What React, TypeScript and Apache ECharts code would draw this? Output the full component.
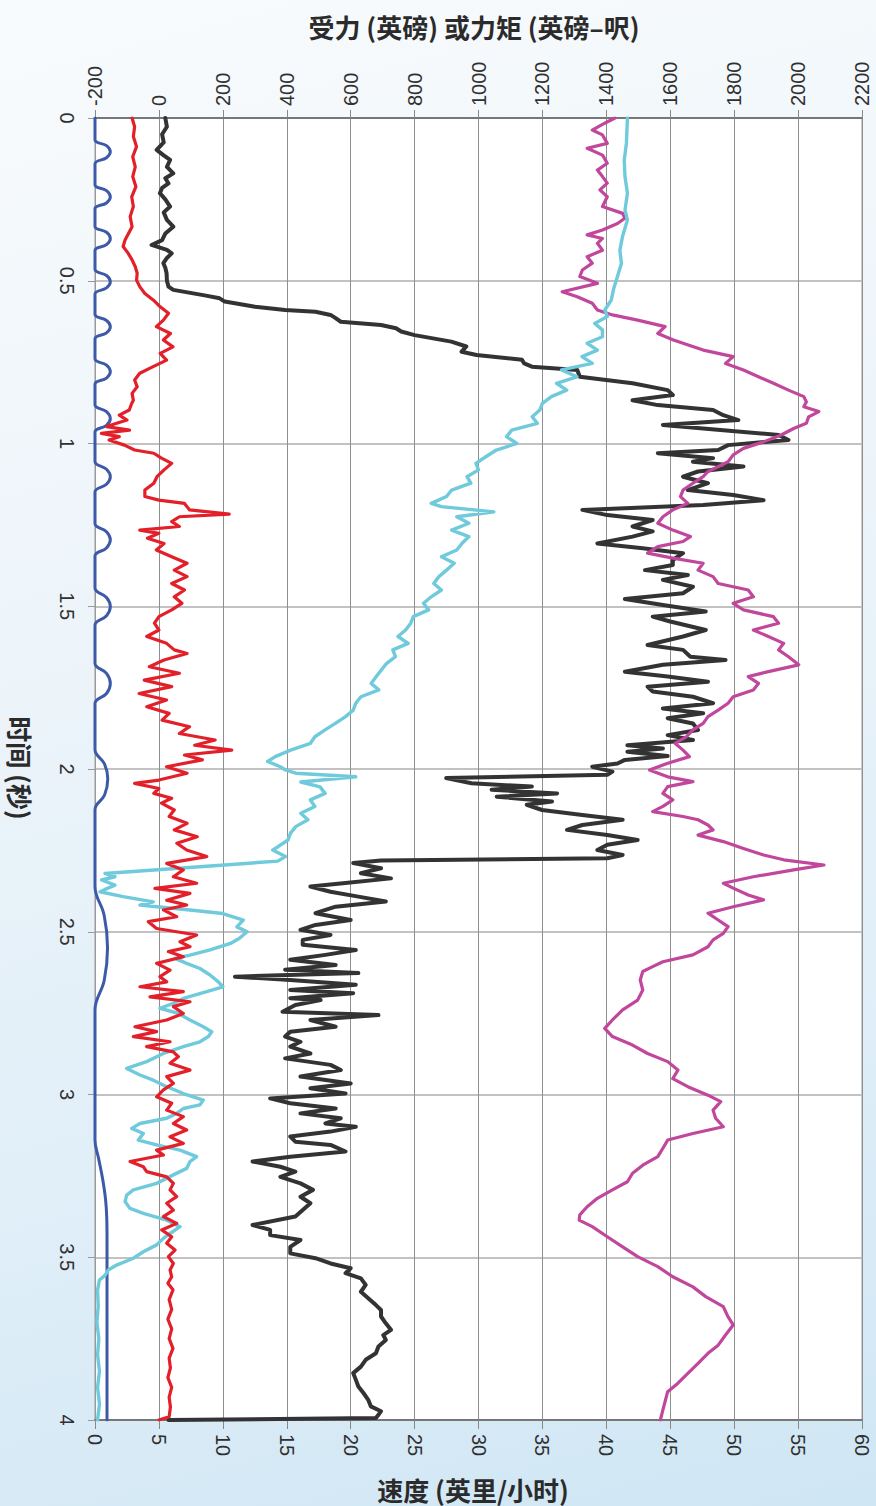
import React, { useEffect, useRef } from "react";
import * as echarts from "echarts";

// Axis ranges
const forceRange = { min: -200, max: 2200, interval: 200 };
const speedRange = { min: 0, max: 60, interval: 5 };
const timeRange = { min: 0, max: 4, interval: 0.5 };

// Pulse signal (mph scale), [time s, value]
const pulseSignal: [number, number][] = [
  [0, 0],
  [0.067, 0], [0.085, 0.9], [0.104, 1.2], [0.122, 0.9], [0.141, 0],
  [0.205, 0], [0.223, 0.9], [0.242, 1.2], [0.261, 0.9], [0.279, 0],
  [0.333, 0], [0.351, 0.9], [0.37, 1.2], [0.389, 0.9], [0.407, 0],
  [0.465, 0], [0.484, 0.9], [0.503, 1.2], [0.522, 0.9], [0.541, 0],
  [0.603, 0], [0.622, 0.9], [0.641, 1.2], [0.66, 0.9], [0.679, 0],
  [0.74, 0], [0.759, 0.9], [0.779, 1.2], [0.799, 0.9], [0.818, 0],
  [0.881, 0], [0.902, 0.9], [0.923, 1.2], [0.944, 0.9], [0.965, 0],
  [1.055, 0], [1.079, 0.9], [1.102, 1.2], [1.125, 0.9], [1.149, 0],
  [1.246, 0], [1.271, 0.9], [1.296, 1.2], [1.321, 0.9], [1.346, 0],
  [1.444, 0], [1.473, 0.9], [1.501, 1.2], [1.529, 0.9], [1.558, 0],
  [1.675, 0], [1.706, 0.9], [1.737, 1.2], [1.768, 0.9], [1.799, 0],
  [1.94, 0], [1.985, 0.75], [2.03, 1.0], [2.08, 0.75], [2.125, 0],
  [2.36, 0], [2.45, 0.72], [2.55, 0.98], [2.65, 0.72], [2.74, 0],
  [3.14, 0], [3.2, 0.3], [3.26, 0.6], [3.32, 0.82], [3.38, 0.92], [3.45, 0.94], [4.0, 0.94],
];

// Red trace (mph scale)
const redSpeed: [number, number][] = [
  [0, 2.9], [0.027, 3.1], [0.057, 3.0], [0.088, 3.25], [0.119, 2.95], [0.15, 3.15], [0.18, 2.95],
  [0.211, 3.2], [0.242, 2.87], [0.272, 3.0], [0.303, 2.75], [0.334, 2.9], [0.375, 2.35], [0.395, 2.2],
  [0.416, 2.6], [0.436, 2.9], [0.457, 3.15], [0.477, 3.3], [0.498, 3.25], [0.518, 3.5], [0.539, 3.9],
  [0.559, 4.55], [0.58, 5.1], [0.6, 5.75], [0.621, 5.35], [0.641, 4.8], [0.662, 5.9], [0.682, 5.35],
  [0.703, 6.1], [0.723, 5.1], [0.744, 5.6], [0.764, 4.55], [0.784, 3.5], [0.805, 3.1], [0.826, 3.3],
  [0.846, 2.9], [0.867, 3.0], [0.877, 2.87], [0.897, 2.68], [0.913, 1.9], [0.928, 2.5], [0.948, 0.9],
  [0.959, 2.7], [0.969, 0.5], [0.979, 1.9], [0.989, 1.1], [1.005, 2.3], [1.02, 3.1], [1.03, 4.6],
  [1.045, 5.2], [1.061, 6.0], [1.081, 5.4], [1.102, 4.85], [1.122, 4.6], [1.143, 3.9], [1.163, 3.9],
  [1.174, 5.0], [1.184, 7.0], [1.204, 7.4], [1.217, 10.5], [1.225, 6.6], [1.24, 6.0], [1.255, 6.6],
  [1.266, 3.5], [1.276, 5.0], [1.291, 4.1], [1.307, 5.4], [1.327, 4.8], [1.348, 6.0], [1.368, 7.2],
  [1.389, 6.2], [1.409, 7.2], [1.43, 6.0], [1.45, 7.0], [1.471, 6.2], [1.491, 6.8], [1.511, 6.0],
  [1.532, 5.0], [1.552, 4.65], [1.573, 5.0], [1.593, 4.05], [1.614, 5.6], [1.634, 6.2], [1.645, 7.2],
  [1.665, 5.4], [1.686, 4.25], [1.706, 6.6], [1.727, 3.85], [1.747, 6.0], [1.768, 3.45], [1.788, 5.6],
  [1.809, 4.05], [1.829, 5.8], [1.85, 5.25], [1.87, 7.4], [1.891, 6.6], [1.911, 9.4], [1.927, 7.8],
  [1.942, 10.7], [1.957, 7.0], [1.972, 8.4], [1.993, 5.6], [2.013, 7.2], [2.034, 5.0], [2.044, 3.1],
  [2.06, 5.0], [2.075, 4.6], [2.09, 6.0], [2.105, 5.2], [2.126, 6.2], [2.146, 5.8], [2.167, 7.2],
  [2.187, 6.2], [2.208, 8.0], [2.228, 6.4], [2.249, 7.17], [2.269, 8.74], [2.29, 5.61], [2.31, 6.91],
  [2.331, 6.13], [2.351, 7.95], [2.367, 4.69], [2.382, 7.43], [2.403, 5.61], [2.418, 7.17], [2.433, 5.35],
  [2.454, 6.39], [2.469, 4.17], [2.49, 4.82], [2.51, 7.95], [2.531, 6.65], [2.546, 7.43], [2.561, 5.74],
  [2.577, 6.91], [2.597, 4.82], [2.618, 5.87], [2.638, 5.08], [2.654, 5.61], [2.669, 3.52], [2.684, 6.91],
  [2.7, 4.3], [2.715, 7.43], [2.73, 6.13], [2.751, 6.91], [2.771, 5.61], [2.792, 3.13], [2.807, 4.82],
  [2.822, 3.0], [2.838, 5.87], [2.853, 4.04], [2.869, 6.13], [2.884, 6.52], [2.904, 5.87], [2.925, 7.43],
  [2.945, 5.61], [2.966, 6.13], [2.986, 5.35], [3.007, 4.82], [3.027, 6.0], [3.048, 5.61], [3.068, 6.91],
  [3.089, 6.13], [3.109, 7.17], [3.13, 5.87], [3.15, 6.91], [3.171, 4.82], [3.186, 5.35], [3.206, 2.74],
  [3.222, 3.78], [3.237, 4.04], [3.253, 5.61], [3.273, 6.13], [3.293, 5.87], [3.314, 6.39], [3.334, 5.61],
  [3.355, 6.13], [3.375, 5.35], [3.396, 6.39], [3.416, 5.22], [3.437, 6.0], [3.457, 5.61], [3.478, 6.26],
  [3.498, 5.74], [3.519, 6.13], [3.539, 5.87], [3.56, 6.0], [3.58, 5.7], [3.6, 6.1], [3.63, 5.8],
  [3.66, 6.0], [3.69, 5.7], [3.72, 6.0], [3.75, 5.8], [3.78, 6.1], [3.81, 5.8], [3.84, 5.9], [3.87, 5.7],
  [3.9, 6.0], [3.93, 5.8], [3.96, 5.9], [3.99, 5.8], [4.0, 5.0],
];

// Cyan trace (mph scale)
const cyanSpeed: [number, number][] = [
  [0, 41.65], [0.078, 41.57], [0.13, 41.4], [0.18, 41.46], [0.231, 41.65], [0.283, 41.46], [0.313, 41.65],
  [0.365, 41.26], [0.406, 41.06], [0.447, 41.18], [0.487, 40.87], [0.528, 40.55], [0.559, 40.39],
  [0.59, 39.88], [0.61, 40.08], [0.631, 39.09], [0.651, 39.69], [0.672, 39.7], [0.692, 38.5], [0.713, 39.3],
  [0.733, 38.1], [0.754, 38.9], [0.774, 36.5], [0.795, 37.7], [0.815, 36.1], [0.836, 36.9], [0.856, 35.7],
  [0.877, 35.0], [0.897, 34.8], [0.918, 34.2], [0.938, 34.6], [0.959, 32.6], [0.979, 32.2], [1.0, 33.0],
  [1.02, 31.4], [1.04, 30.6], [1.061, 29.8], [1.081, 30.0], [1.102, 29.1], [1.122, 29.4], [1.143, 27.9],
  [1.163, 27.5], [1.184, 26.3], [1.194, 27.1], [1.21, 31.2], [1.225, 28.3], [1.245, 29.25], [1.266, 27.9],
  [1.286, 29.25], [1.307, 28.7], [1.327, 28.3], [1.348, 27.1], [1.368, 28.1], [1.389, 27.5], [1.409, 26.9],
  [1.43, 26.5], [1.45, 27.1], [1.471, 26.3], [1.491, 25.7], [1.511, 26.1], [1.532, 24.9], [1.552, 24.7],
  [1.573, 24.3], [1.593, 23.7], [1.614, 24.5], [1.634, 23.3], [1.655, 23.5], [1.676, 22.8], [1.696, 22.4],
  [1.716, 22.0], [1.737, 21.6], [1.757, 22.2], [1.778, 20.8], [1.798, 20.4], [1.819, 20.2], [1.839, 19.6],
  [1.86, 18.8], [1.88, 18.0], [1.901, 17.2], [1.921, 16.85], [1.942, 15.3], [1.962, 14.1], [1.977, 13.5],
  [1.993, 14.5], [2.003, 14.9], [2.013, 15.7], [2.024, 20.4], [2.04, 16.1], [2.055, 17.6], [2.075, 18.0],
  [2.095, 16.85], [2.115, 17.2], [2.136, 16.1], [2.156, 16.65], [2.177, 15.7], [2.197, 15.3], [2.218, 15.1],
  [2.249, 13.9], [2.269, 14.9], [2.283, 14.3], [2.321, 0.78], [2.331, 1.56], [2.341, 0.52], [2.357, 1.56],
  [2.37, 0.78], [2.377, 0.39], [2.392, 2.2], [2.408, 4.56], [2.418, 3.52], [2.433, 7.43], [2.444, 10.0],
  [2.464, 11.6], [2.485, 11.1], [2.5, 11.9], [2.52, 11.3], [2.536, 10.6], [2.556, 9.0], [2.572, 7.43],
  [2.582, 6.26], [2.597, 7.17], [2.613, 8.21], [2.633, 9.0], [2.654, 9.65], [2.669, 10.0], [2.684, 8.74],
  [2.705, 6.91], [2.72, 6.13], [2.735, 5.08], [2.751, 6.52], [2.771, 7.43], [2.792, 8.47], [2.807, 9.13],
  [2.822, 8.87], [2.838, 8.21], [2.853, 6.91], [2.874, 5.35], [2.899, 4.04], [2.92, 2.48], [2.94, 3.52],
  [2.956, 4.56], [2.976, 5.61], [2.997, 6.91], [3.017, 8.47], [3.032, 8.21], [3.043, 6.91], [3.058, 6.39],
  [3.073, 5.61], [3.089, 3.52], [3.104, 2.87], [3.12, 3.78], [3.14, 3.39], [3.155, 4.82], [3.171, 6.65],
  [3.191, 7.95], [3.206, 7.43], [3.227, 7.17], [3.247, 6.13], [3.273, 4.82], [3.293, 3.0], [3.309, 2.48],
  [3.329, 2.35], [3.35, 2.74], [3.365, 3.78], [3.386, 5.61], [3.406, 6.65], [3.427, 5.87], [3.442, 5.35],
  [3.462, 4.82], [3.483, 3.78], [3.503, 3.0], [3.524, 1.69], [3.539, 1.04], [3.555, 0.8], [3.57, 0.35],
  [3.6, 0.2], [3.65, 0.25], [3.7, 0.15], [3.75, 0.3], [3.8, 0.2], [3.85, 0.35], [3.9, 0.2], [3.95, 0.35],
  [4.0, 0.2],
];

// Dark trace (lbf scale)
const blackForce: [number, number][] = [
  [0, 20], [0.027, 25], [0.05, 10], [0.075, 15], [0.098, -7], [0.115, 15], [0.129, 35], [0.15, 25],
  [0.17, 45], [0.185, 20], [0.201, 30], [0.215, 10], [0.231, 3], [0.25, 20], [0.272, 35], [0.29, 15],
  [0.313, 25], [0.334, 45], [0.355, 20], [0.375, 10], [0.39, -23], [0.405, 25], [0.416, 40], [0.43, 25],
  [0.446, 14], [0.46, 20], [0.477, 24], [0.5, 25], [0.518, 30], [0.528, 45], [0.545, 143], [0.554, 190],
  [0.564, 206], [0.58, 301], [0.59, 395], [0.595, 490], [0.605, 537], [0.615, 553], [0.626, 569],
  [0.636, 695], [0.646, 742], [0.656, 758], [0.667, 800], [0.687, 915], [0.702, 962], [0.718, 947],
  [0.728, 994], [0.743, 1136], [0.754, 1143], [0.764, 1167], [0.774, 1309], [0.795, 1317], [0.815, 1482],
  [0.836, 1592], [0.851, 1608], [0.867, 1482], [0.882, 1561], [0.897, 1734], [0.913, 1766], [0.928, 1813],
  [0.943, 1577], [0.959, 1766], [0.974, 1939], [0.989, 1970], [1.005, 1781], [1.02, 1750], [1.03, 1561],
  [1.045, 1734], [1.056, 1671], [1.071, 1829], [1.086, 1687], [1.102, 1640], [1.122, 1718], [1.143, 1655],
  [1.158, 1797], [1.174, 1892], [1.189, 1703], [1.204, 1325], [1.22, 1403], [1.235, 1545], [1.255, 1482],
  [1.27, 1545], [1.286, 1482], [1.307, 1372], [1.322, 1514], [1.337, 1640], [1.358, 1608], [1.373, 1608],
  [1.389, 1521], [1.404, 1655], [1.419, 1577], [1.44, 1671], [1.46, 1640], [1.478, 1458], [1.496, 1577],
  [1.516, 1711], [1.532, 1545], [1.547, 1600], [1.573, 1711], [1.593, 1640], [1.619, 1529], [1.634, 1640],
  [1.655, 1663], [1.665, 1773], [1.68, 1577], [1.701, 1458], [1.716, 1592], [1.732, 1718], [1.747, 1529],
  [1.762, 1545], [1.778, 1671], [1.798, 1734], [1.814, 1577], [1.829, 1703], [1.844, 1592], [1.86, 1671],
  [1.88, 1687], [1.896, 1592], [1.911, 1671], [1.927, 1466], [1.937, 1577], [1.947, 1466], [1.96, 1592],
  [1.972, 1458], [1.983, 1435], [1.993, 1356], [2.008, 1419], [2.018, 1403], [2.028, 899], [2.044, 978],
  [2.054, 1167], [2.064, 1041], [2.075, 1246], [2.085, 1057], [2.1, 1230], [2.11, 1151], [2.126, 1199],
  [2.141, 1325], [2.156, 1451], [2.172, 1325], [2.187, 1277], [2.203, 1403], [2.218, 1498], [2.233, 1403],
  [2.249, 1372], [2.264, 1451], [2.274, 1403], [2.281, 695], [2.289, 608], [2.305, 695], [2.32, 632],
  [2.336, 726], [2.351, 576], [2.361, 474], [2.377, 537], [2.392, 624], [2.407, 710], [2.423, 553],
  [2.443, 490], [2.464, 600], [2.479, 490], [2.494, 443], [2.51, 537], [2.525, 450], [2.54, 450],
  [2.556, 616], [2.571, 521], [2.586, 411], [2.602, 553], [2.617, 395], [2.627, 624], [2.638, 238],
  [2.648, 411], [2.663, 616], [2.679, 411], [2.689, 608], [2.704, 411], [2.71, 506], [2.725, 427],
  [2.746, 387], [2.756, 687], [2.771, 474], [2.792, 553], [2.807, 411], [2.822, 395], [2.838, 443],
  [2.853, 411], [2.874, 474], [2.889, 395], [2.909, 537], [2.925, 569], [2.945, 443], [2.966, 600],
  [2.981, 474], [2.997, 584], [3.012, 348], [3.027, 411], [3.043, 553], [3.058, 443], [3.073, 569],
  [3.089, 521], [3.099, 616], [3.114, 537], [3.129, 411], [3.145, 427], [3.155, 537], [3.175, 584],
  [3.191, 411], [3.206, 293], [3.222, 380], [3.237, 427], [3.253, 380], [3.273, 443], [3.293, 482],
  [3.314, 443], [3.334, 474], [3.355, 450], [3.375, 427], [3.401, 293], [3.416, 348], [3.432, 348],
  [3.447, 443], [3.468, 411], [3.488, 411], [3.503, 490], [3.519, 537], [3.534, 600], [3.549, 584],
  [3.565, 632], [3.585, 647], [3.606, 632], [3.626, 655], [3.647, 679], [3.662, 695], [3.682, 695],
  [3.703, 710], [3.723, 726], [3.739, 702], [3.754, 710], [3.774, 687], [3.795, 679], [3.815, 647],
  [3.836, 632], [3.856, 608], [3.876, 616], [3.897, 624], [3.917, 640], [3.938, 655], [3.958, 663],
  [3.973, 695], [3.984, 687], [3.994, 679], [4.0, 30],
];

// Magenta trace (lbf scale)
const magentaForce: [number, number][] = [
  [0, 1427], [0.016, 1395], [0.037, 1356], [0.052, 1388], [0.078, 1403], [0.093, 1340], [0.114, 1388],
  [0.139, 1403], [0.16, 1372], [0.18, 1388], [0.2, 1403], [0.221, 1380], [0.242, 1403], [0.272, 1388],
  [0.293, 1451], [0.308, 1458], [0.324, 1435], [0.344, 1388], [0.359, 1340], [0.37, 1388], [0.385, 1372],
  [0.406, 1388], [0.426, 1340], [0.446, 1356], [0.467, 1325], [0.487, 1317], [0.508, 1372], [0.534, 1262],
  [0.549, 1309], [0.569, 1356], [0.59, 1372], [0.605, 1419], [0.621, 1498], [0.641, 1584], [0.662, 1561],
  [0.682, 1610], [0.692, 1640], [0.713, 1703], [0.733, 1797], [0.754, 1773], [0.774, 1829], [0.795, 1876],
  [0.815, 1923], [0.836, 1970], [0.856, 2018], [0.872, 2026], [0.887, 2018], [0.902, 2065], [0.918, 2033],
  [0.938, 2026], [0.954, 1986], [0.974, 1947], [0.995, 1892], [1.015, 1829], [1.035, 1797], [1.056, 1781],
  [1.071, 1750], [1.086, 1718], [1.102, 1703], [1.122, 1671], [1.143, 1640], [1.163, 1632], [1.184, 1655],
  [1.204, 1608], [1.225, 1577], [1.245, 1561], [1.266, 1608], [1.286, 1663], [1.301, 1640], [1.317, 1561],
  [1.337, 1529], [1.352, 1608], [1.368, 1703], [1.389, 1687], [1.409, 1734], [1.43, 1750], [1.45, 1844],
  [1.471, 1860], [1.491, 1797], [1.511, 1829], [1.532, 1923], [1.552, 1939], [1.573, 1860], [1.593, 1907],
  [1.614, 1955], [1.634, 1939], [1.655, 1970], [1.68, 2002], [1.701, 1907], [1.716, 1844], [1.737, 1876],
  [1.757, 1860], [1.778, 1797], [1.798, 1781], [1.819, 1750], [1.839, 1718], [1.86, 1703], [1.88, 1671],
  [1.901, 1650], [1.921, 1615], [1.942, 1640], [1.962, 1660], [1.983, 1590], [2.003, 1535], [2.024, 1592],
  [2.039, 1671], [2.054, 1592], [2.075, 1577], [2.095, 1608], [2.115, 1577], [2.131, 1545], [2.146, 1640],
  [2.156, 1687], [2.172, 1718], [2.187, 1734], [2.203, 1687], [2.223, 1766], [2.244, 1829], [2.264, 1892],
  [2.279, 1955], [2.295, 2081], [2.31, 1986], [2.331, 1860], [2.351, 1766], [2.366, 1797], [2.387, 1844],
  [2.402, 1892], [2.423, 1797], [2.443, 1718], [2.464, 1750], [2.484, 1781], [2.505, 1766], [2.525, 1734],
  [2.546, 1718], [2.571, 1671], [2.592, 1577], [2.607, 1545], [2.622, 1514], [2.648, 1506], [2.679, 1514],
  [2.71, 1498], [2.74, 1451], [2.771, 1419], [2.797, 1395], [2.822, 1419], [2.848, 1482], [2.874, 1529],
  [2.899, 1592], [2.925, 1624], [2.951, 1608], [2.976, 1655], [3.002, 1718], [3.022, 1758], [3.048, 1734],
  [3.073, 1742], [3.099, 1766], [3.12, 1671], [3.14, 1592], [3.165, 1577], [3.191, 1561], [3.217, 1514],
  [3.242, 1482], [3.268, 1466], [3.293, 1419], [3.319, 1372], [3.345, 1340], [3.37, 1317], [3.386, 1315],
  [3.406, 1356], [3.437, 1403], [3.468, 1451], [3.498, 1498], [3.529, 1561], [3.56, 1608], [3.591, 1671],
  [3.621, 1711], [3.652, 1766], [3.683, 1781], [3.708, 1797], [3.739, 1773], [3.77, 1750], [3.795, 1718],
  [3.826, 1687], [3.857, 1655], [3.887, 1624], [3.913, 1592], [3.943, 1584], [3.969, 1577], [4.0, 1569],
];

const topTitle = "受力 (英磅) 或力矩 (英磅–呎)";
const bottomTitle = "速度 (英里/小时)";
const leftTitle = "时间 (秒)";

const labelFont = '"Liberation Sans", Arial, sans-serif';
const titleFont = '"Noto Sans CJK SC", "Noto Sans", sans-serif';

function lineSeries(
  name: string,
  data: [number, number][],
  xAxisIndex: number,
  color: string,
  width: number,
  z: number,
  smooth: number | boolean = false
) {
  return {
    type: "line",
    name,
    xAxisIndex,
    yAxisIndex: 0,
    data: data.map(([t, v]) => [v, t]),
    showSymbol: false,
    symbol: "none",
    smooth,
    clip: true,
    z,
    lineStyle: { color, width, join: "round", cap: "round" },
  };
}

function titleText(text: string, x: number, y: number, rotation = 0) {
  return {
    type: "text",
    x,
    y,
    rotation,
    silent: true,
    style: {
      text,
      fill: "#2b2b2b",
      font: `bold 26px ${titleFont}`,
      fontSize: 26,
      fontWeight: "bold",
      fontFamily: titleFont,
      align: "center",
      verticalAlign: "middle",
      textAlign: "center",
      textVerticalAlign: "middle",
    },
  };
}

export default function App() {
  const ref = useRef<HTMLDivElement>(null);

  useEffect(() => {
    document.body.style.margin = "0";
    if (!ref.current) return;
    const chart = echarts.init(ref.current, undefined, { renderer: "svg" });

    const axisLabel = {
      rotate: -90,
      fontSize: 20,
      color: "#303030",
      fontFamily: labelFont,
      formatter: (v: number) => String(v),
    };

    chart.setOption({
      animation: false,
      backgroundColor: "transparent",
      grid: {
        left: 95,
        right: 14,
        top: 118,
        bottom: 86,
        show: true,
        backgroundColor: "#ffffff",
        borderColor: "#9a9a9a",
        borderWidth: 1,
      },
      xAxis: [
        {
          type: "value",
          position: "top",
          ...forceRange,
          axisLine: { show: true, onZero: false, lineStyle: { color: "#777777", width: 2 } },
          axisTick: { show: true, length: 8, lineStyle: { color: "#888888" } },
          axisLabel: { ...axisLabel, margin: 12 },
          splitLine: { show: true, lineStyle: { color: "#8f8f8f", width: 1 } },
        },
        {
          type: "value",
          position: "bottom",
          ...speedRange,
          axisLine: { show: true, onZero: false, lineStyle: { color: "#777777", width: 2 } },
          axisTick: { show: true, length: 9, lineStyle: { color: "#888888" } },
          axisLabel: { ...axisLabel, margin: 14 },
          splitLine: { show: false },
        },
      ],
      yAxis: [
        {
          type: "value",
          inverse: true,
          ...timeRange,
          axisLine: { show: true, onZero: false, lineStyle: { color: "#9a9a9a", width: 1 } },
          axisTick: { show: true, length: 7, lineStyle: { color: "#999999" } },
          axisLabel: { ...axisLabel, margin: 18 },
          splitLine: { show: true, lineStyle: { color: "#c2c2c2", width: 2 } },
        },
      ],
      graphic: [
        titleText(topTitle, 474, 26),
        titleText(bottomTitle, 473, 1489),
        titleText(leftTitle, 20, 768, -Math.PI / 2),
      ],
      series: [
        lineSeries("脉冲", pulseSignal, 1, "#3d5aa8", 3, 2, 0.4),
        lineSeries("受力", blackForce, 0, "#333333", 4, 3),
        lineSeries("力矩", magentaForce, 0, "#c0479b", 3.2, 4),
        lineSeries("轮速", cyanSpeed, 1, "#6fcadc", 3.4, 5),
        lineSeries("红", redSpeed, 1, "#e3202a", 3.2, 6),
      ],
    });

    return () => chart.dispose();
  }, []);

  return (
    <div
      style={{
        position: "absolute",
        left: 0,
        top: 0,
        width: 876,
        height: 1506,
        background:
          "linear-gradient(165deg, #f8fbfd 0%, #eef5fa 35%, #dfeef8 72%, #cfe6f4 100%)",
      }}
    >
      <div ref={ref} style={{ width: 876, height: 1506 }} />
    </div>
  );
}
